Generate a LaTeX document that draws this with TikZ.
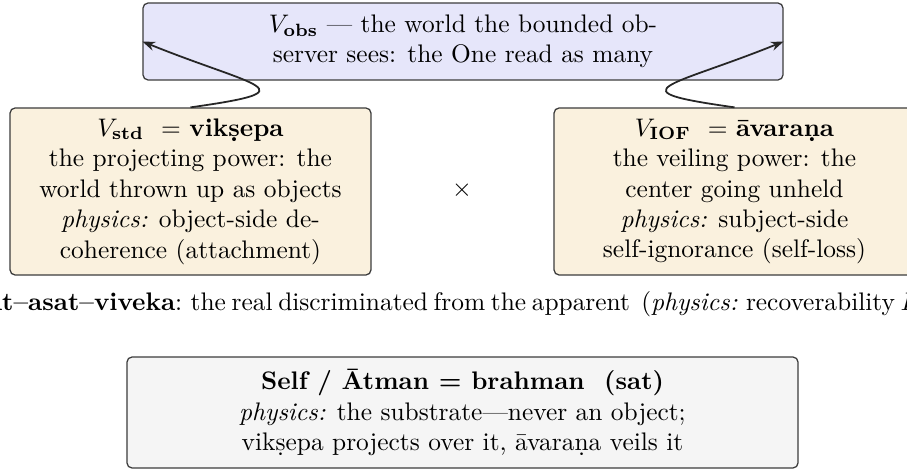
\documentclass[tikz,border=0pt]{standalone}
\usetikzlibrary{arrows.meta}
\definecolor{obsfill}{RGB}{230,230,250}
\definecolor{powfill}{RGB}{250,241,222}
\definecolor{selffill}{RGB}{245,245,245}
\definecolor{edgecol}{RGB}{60,60,60}
\begin{document}
\begin{tikzpicture}[x=0.3937pt,y=0.3937pt,
  box/.style={draw=edgecol, line width=0.5pt, rounded corners=2pt, align=center, inner sep=0pt},
  powbox/.style={box, fill=powfill, minimum width=142.1pt, minimum height=65.75pt},
  arr/.style={-{Stealth[length=5pt,width=3.6pt]}, line width=0.7pt, draw=black!85}]
\useasboundingbox (0,0) rectangle (907,469);
\node[box, fill=obsfill, minimum width=251.97pt, minimum height=30.3pt] (obs) at (463,427.5)
  {$V_{\mathbf{obs}}$ --- the world the bounded ob-\\server sees: the One read as many};
\node[powbox] (std) at (190.5,277.5)
  {$V_{\mathbf{std}}$\ \ = \textbf{vikṣepa}\\
   the projecting power: the\\
   world thrown up as objects\\
   \textit{physics:} object-side de-\\
   coherence (attachment)};
\node[powbox] (iof) at (734.5,277.5)
  {$V_{\mathbf{IOF}}$\ \ = \textbf{āvaraṇa}\\
   the veiling power: the\\
   center going unheld\\
   \textit{physics:} subject-side\\
   self-ignorance (self-loss)};
\node (times) at (462,279) {$\times$};
\node[anchor=base west, inner sep=0pt] (viveka) at (-24,158)
  {\spaceskip=2.22pt\relax\textbf{sat--asat--viveka}: the real discriminated from the apparent\hspace{4.44pt}(\textit{physics:} recoverability $R$)};
\node[box, fill=selffill, minimum width=264.2pt, minimum height=43.7pt] (self) at (462.5,56.5)
  {\textbf{Self / Ātman = brahman\ \ (sat)}\\
   \textit{physics:} the substrate---never an object;\\
   vikṣepa projects over it, āvaraṇa veils it};
\draw[arr] (std.north) .. controls +(8:123) and +(-22:123) .. (obs.west);
\draw[arr] (iof.north) .. controls +(172:123) and +(-158:123) .. (obs.east);
\end{tikzpicture}
\end{document}
